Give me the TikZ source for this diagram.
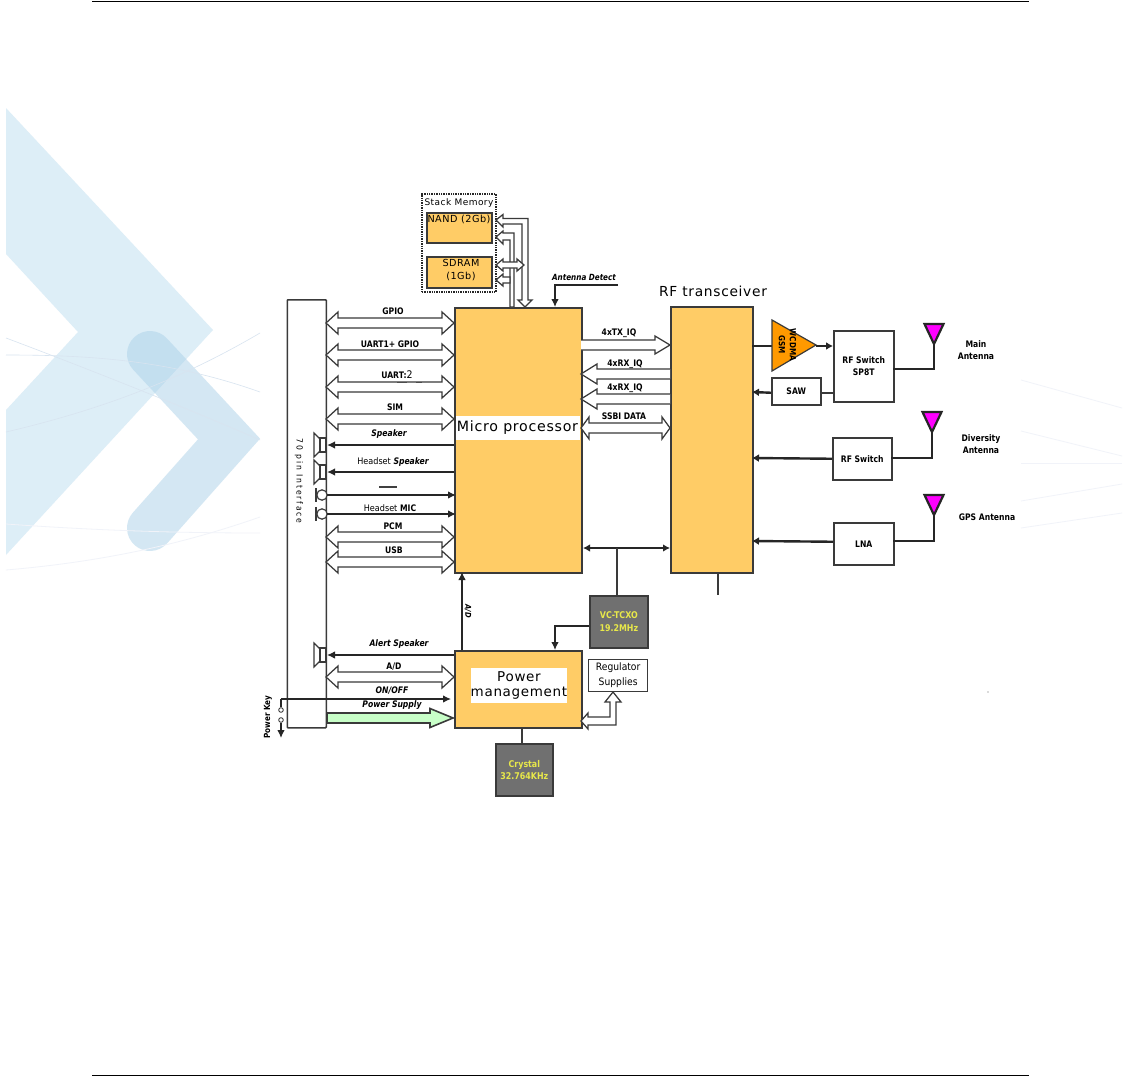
\documentclass[tikz,border=0pt]{standalone}
\usepackage{fontspec}
\setmainfont{DejaVu Sans}
\newfontfamily\thinf[LetterSpace=5]{DejaVu Sans}
\newfontfamily\boldf[FakeStretch=0.85]{DejaVu Sans Bold}
\newfontfamily\boldi[FakeStretch=0.85]{DejaVu Sans Bold Oblique}
\newfontfamily\regf[FakeStretch=0.9]{DejaVu Sans}
\usetikzlibrary{arrows.meta}
\definecolor{blockfill}{HTML}{FFCC66}
\definecolor{linegray}{HTML}{3A3A3A}
\definecolor{wmA}{HTML}{DDEEF7}
\definecolor{wmB}{HTML}{ABD1E9}
\definecolor{wmL}{HTML}{D8E4F0}
\definecolor{wmM}{HTML}{F1F3F9}
\definecolor{yelt}{HTML}{E8E84A}
\definecolor{hoty}{HTML}{FF00FF}
\definecolor{pafill}{HTML}{FF9900}
\definecolor{grayfill}{HTML}{707070}
\definecolor{psgreen}{HTML}{C8FFC8}
\tikzset{
  block/.style={draw=linegray,line width=1.7pt,fill=blockfill,inner sep=0pt},
  plain/.style={draw=linegray,line width=1.5pt,fill=white},
  gray box/.style={draw=linegray,line width=1.7pt,fill=grayfill},
  dbl/.style={draw=linegray,line width=1.25pt,fill=white,line join=miter},
  conn/.style={draw=black!85,line width=1.2pt,-{Latex[length=8pt,width=7.5pt]}},
  tconn/.style={draw=black!85,line width=2.4pt,-{Latex[length=7pt,width=8pt]}},
  lab/.style={font=\boldf\fontsize{9}{11}\selectfont,inner sep=0pt,align=center},
  ilab/.style={font=\boldi\fontsize{9}{11}\selectfont,inner sep=0pt,align=center},
  ttl/.style={font=\thinf\fontsize{13.5}{15}\selectfont,inner sep=0pt,align=center},
  memt/.style={font=\thinf\fontsize{9.7}{13}\selectfont,inner sep=0pt,align=center},
  yel/.style={font=\boldf\fontsize{9.3}{12.5}\selectfont,text=yelt,inner sep=0pt,align=center},
  faint/.style={draw=wmL,line width=.6pt},
  fainter/.style={draw=wmM,line width=.8pt},
}
\newcommand{\hdbl}[3]{\draw[dbl] (#1,#3) -- (#1+12,#3-11) -- (#1+12,#3-5) -- (#2-12,#3-5) -- (#2-12,#3-11) -- (#2,#3) -- (#2-12,#3+11) -- (#2-12,#3+5) -- (#1+12,#3+5) -- (#1+12,#3+11) -- cycle;}
\newcommand{\spk}[1]{\draw[draw=linegray,line width=1.2pt,fill=white] (320,#1-6) -- (314,#1-12) -- (314,#1+12) -- (320,#1+6) -- cycle; \draw[draw=linegray,line width=1.2pt,fill=white] (320,#1-7) rectangle (325.5,#1+7);}
\newcommand{\mic}[1]{\draw[draw=linegray,line width=1.6pt] (316,#1-7) -- (316,#1+7); \draw[draw=linegray,line width=1.2pt] (316,#1) -- (318,#1); \draw[draw=linegray,line width=1.2pt,fill=white] (322,#1) circle (5.2);}
\newcommand{\ant}[3]{\draw[draw=black!85,line width=2.2pt,fill=hoty,line join=miter] (#1-9.5,#2) -- (#1+9.5,#2) -- (#1,#3) -- cycle;}
\begin{document}
\begin{tikzpicture}[x=1pt,y=-1pt]
\useasboundingbox (0,0) rectangle (1128,1076);
\fill[white] (0,0) rectangle (1128,1076);
% page rules
\draw[black,line width=1.2pt] (92,1.5) -- (1029,1.5);
\draw[black,line width=1.2pt] (92,1075.2) -- (1029,1075.2);
% watermark
\fill[wmA] (6,108) -- (213,330) -- (6,555) -- (6,410) -- (78,332) -- (6,254) -- cycle;
\draw[wmB,opacity=.5,line width=46pt,line cap=round,line join=miter] (150,354) -- (229,439) -- (150,528);
\draw[faint] (6,338) .. controls (70,362) and (180,405) .. (260,440);
\draw[faint] (6,355) .. controls (90,355) and (170,360) .. (260,392);
\draw[faint] (6,432) .. controls (100,410) and (180,380) .. (260,333);
\draw[fainter] (6,524) .. controls (90,530) and (170,533) .. (260,533);
\draw[fainter] (6,570) .. controls (100,562) and (180,545) .. (260,517);
\draw[fainter] (1021,380) -- (1122,408);
\draw[fainter] (1021,431) -- (1122,456);
\draw[fainter] (1021,463) -- (1122,463);
\draw[fainter] (1021,501) -- (1122,484);
\draw[fainter] (1021,528) -- (1122,513);
% blocks
\node[draw=black!85,line width=1.4pt,dash pattern=on 1.4pt off 1pt,inner sep=0pt,minimum width=74pt,minimum height=98pt] (stack) at (459,243) {};
\node[memt,font=\thinf\fontsize{9}{11}\selectfont] (stacklab) at (459,203) {Stack Memory};
\node[block,minimum width=65pt,minimum height=30pt,anchor=north west] (nand) at (426,212) {};
\node[memt] (nandlab) at (459,219) {NAND (2Gb)};
\node[block,minimum width=65pt,minimum height=31pt,anchor=north west] (sdram) at (426,256) {};
\node[memt] (sdramlab) at (461,270) {SDRAM\\(1Gb)};
\node[plain,minimum width=39pt,minimum height=428pt,anchor=north west,inner sep=0pt,rounded corners=.8pt] (pin) at (286.5,299) {};
\node[rotate=-90,font=\regf\addfontfeature{LetterSpace=22}\fontsize{8.5}{10}\selectfont,inner sep=0pt] (pinlab) at (299,481) {70 pin Interface};
\node[block,minimum width=127pt,minimum height=265pt,anchor=north west] (micro) at (454,307) {};
\node[fill=white,minimum width=124pt,minimum height=24pt,inner sep=0pt,ttl,font=\thinf\fontsize{14.2}{15}\selectfont] (microlab) at (517.5,428) {Micro processor};
\node[block,minimum width=82pt,minimum height=266pt,anchor=north west] (rf) at (670,306) {};
\node[ttl,font=\thinf\fontsize{13.8}{15}\selectfont] (rflab) at (713,291) {RF transceiver};
\node[block,minimum width=127pt,minimum height=77pt,anchor=north west] (pm) at (454,650) {};
\node[fill=white,minimum width=92pt,minimum height=35pt,inner sep=0pt,ttl] (pmlab) at (519,685) {Power\\management};
\node[gray box,minimum width=58pt,minimum height=52pt,inner sep=0pt,anchor=north west,yel] (tcxo) at (589,595) {VC-TCXO\\19.2MHz};
\node[gray box,minimum width=57pt,minimum height=52pt,inner sep=0pt,anchor=north west,yel] (crystal) at (495,743) {Crystal\\32.764KHz};
\node[draw=linegray,line width=1.3pt,fill=white,minimum width=59pt,minimum height=32pt,anchor=north west,inner sep=0pt,align=center,font=\regf\fontsize{10.2}{15}\selectfont] (reg) at (588,659) {Regulator\\Supplies};
% left double arrows
\hdbl{326}{454}{323}
\hdbl{326}{454}{355}
\hdbl{326}{454}{387}
\hdbl{326}{454}{419}
\hdbl{326}{454}{537}
\hdbl{326}{454}{562}
\hdbl{326}{454}{677}
\node[lab] (l1) at (393,311) {GPIO};
\node[lab] (l2) at (390,344) {UART1+ GPIO};
\node[lab] (l3) at (397,375) {UART:{\regf\fontsize{10.5}{11}\selectfont 2}};
\draw[black!70,line width=.9pt] (397,382.5) -- (407,382.5) (416,382.5) -- (422,382.5);
\node[lab] (l4) at (395,407) {SIM};
\node[lab] (l5) at (393,526) {PCM};
\node[lab] (l6) at (394,550) {USB};
\node[ilab] (l7) at (399,644) {Alert Speaker};
\node[lab] (l8) at (394,667) {A/D};
\node[ilab] (l9) at (392,691) {ON/OFF};
\node[ilab] (l10) at (392,705) {Power Supply};
\node[ilab] (l11) at (389,434) {Speaker};
\node[ilab] (l12) at (393,462) {{\regf Headset} Speaker};
\node[lab] (l13) at (390,508) {{\regf Headset} MIC};
\fill[black!75] (379,486) rectangle (397,488);
% speakers and mics
\spk{445} \spk{472} \spk{655}
\mic{495} \mic{514}
\coordinate (sa1) at (454,445); \coordinate (sa2) at (327,445);
\coordinate (sb1) at (454,472); \coordinate (sb2) at (327,472);
\coordinate (sc1) at (454,655); \coordinate (sc2) at (327,655);
\draw[conn,line width=1.5pt] (sa1) -- (sa2);
\draw[conn,line width=1.5pt] (sb1) -- (sb2);
\draw[conn] (sc1) -- (sc2);
\coordinate (ma1) at (327,495); \coordinate (ma2) at (456,495);
\coordinate (mb1) at (327,514); \coordinate (mb2) at (456,514);
\draw[conn] (ma1) -- (ma2);
\draw[conn] (mb1) -- (mb2);
% on/off + power key
\coordinate (pk0) at (281,738); \coordinate (pk1) at (281,699); \coordinate (pk2) at (451,699);
\draw[conn] (pk1) -- (pk2);
\draw[black!85,line width=1.2pt] (pk1) -- (281,707);
\draw[conn] (281,723) -- (pk0);
\draw[black!85,line width=.8pt,fill=white] (281,710) circle (2.3);
\draw[black!85,line width=.8pt,fill=white] (281,720) circle (2.3);
\node[lab,rotate=90,font=\boldf\fontsize{8.5}{10}\selectfont] (pwrkey) at (268,717) {Power Key};
% power supply arrow
\draw[draw=linegray,line width=1.6pt,fill=psgreen] (327,713) -- (430,713) -- (430,708.5) -- (453,718) -- (430,727.5) -- (430,723) -- (327,723) -- cycle;
% A/D
\draw[conn] (462,650) -- (462,572);
\node[lab,rotate=-90,font=\boldi\fontsize{8}{9}\selectfont] (adv) at (468,611) {A/D};
% crystal & tcxo
\coordinate (ta) at (583,548); \coordinate (tb) at (670,548);
\draw[draw=black!85,line width=1.2pt,{Latex[length=7pt,width=7.5pt]}-{Latex[length=7pt,width=7.5pt]}] (ta) -- (tb);
\draw[linegray,line width=1.2pt] (617,595) -- (617,548);
\draw[conn] (589,626) -- (555,626) -- (555,650);
\draw[linegray,line width=1.6pt] (522,727) -- (522,743);
% regulator arrow
\draw[dbl] (581,721) -- (588,713) -- (588,717) -- (610,717) -- (610,702) -- (605,702) -- (613,692) -- (621,702) -- (616,702) -- (616,725) -- (588,725) -- (588,729) -- cycle;
% memory buses
\draw[dbl] (496,220) -- (503,214.5) -- (503,218.5) -- (528,218.5) -- (528,300) -- (532,300) -- (525,307) -- (518,300) -- (522,300) -- (522,224) -- (503,224) -- (503,227) -- cycle;
\draw[dbl] (496,237) -- (503,231) -- (503,233) -- (514,233) -- (514,307) -- (510,307) -- (510,240) -- (503,240) -- (503,244) -- cycle;
\draw[dbl] (496,265) -- (503,259) -- (503,262) -- (517,262) -- (517,259) -- (524,265) -- (517,271) -- (517,268) -- (503,268) -- (503,271) -- cycle;
\draw[dbl] (496,280) -- (503,274) -- (503,277) -- (510,277) -- (510,283) -- (503,283) -- (503,286) -- cycle;
% antenna detect
\coordinate (ad) at (618,285);
\draw[conn] (ad) -- (555,285) -- (555,307);
\node[ilab,font=\boldi\fontsize{8.5}{10}\selectfont] (adlab) at (584,277) {Antenna Detect};
% micro <-> rf buses
\draw[dbl] (581,340) -- (655,340) -- (655,336) -- (670,345) -- (655,354) -- (655,350) -- (581,350);
\draw[dbl] (670,369) -- (597,369) -- (597,364) -- (581,374) -- (597,384) -- (597,379) -- (670,379);
\draw[dbl] (670,394) -- (597,394) -- (597,389) -- (581,399) -- (597,409) -- (597,404) -- (670,404);
\draw[dbl] (581,428) -- (589,417) -- (589,423) -- (662,423) -- (662,417) -- (670,428) -- (662,439) -- (662,433) -- (589,433) -- (589,439) -- cycle;
\node[lab] (t1) at (619,333) {4xTX\_IQ};
\node[lab] (t2) at (625,364) {4xRX\_IQ};
\node[lab] (t3) at (625,388) {4xRX\_IQ};
\node[lab] (t4) at (624,416) {SSBI DATA};
% rf stub
\draw[linegray,line width=1.2pt] (718,572) -- (718,595);
% PA
\draw[black!85,line width=2.4pt] (752,346) -- (772,346);
\draw[draw=linegray,line width=1.2pt,fill=pafill] (772,320) -- (816,345) -- (772,371) -- cycle;
\node[lab,rotate=-90,font=\boldf\fontsize{8.5}{9}\selectfont] (pa1) at (782,345) {GSM};
\node[lab,rotate=-90,font=\boldf\fontsize{8.5}{9}\selectfont] (pa2) at (793,345) {WCDMA};
\node[plain,minimum width=60pt,minimum height=71pt,inner sep=0pt,anchor=north west,lab,font=\boldf\fontsize{9}{12.5}\selectfont] (sw1) at (833,330) {RF Switch\\SP8T};
\node[plain,minimum width=49pt,minimum height=27pt,inner sep=0pt,anchor=north west,lab] (saw) at (771,377) {SAW};
\node[plain,minimum width=59pt,minimum height=42pt,inner sep=0pt,anchor=north west,lab] (sw2) at (832,437) {RF Switch};
\node[plain,minimum width=60pt,minimum height=42pt,inner sep=0pt,anchor=north west,lab] (lna) at (833,522) {LNA};
\draw[tconn] (816,346) -- (833,346);
\draw[tconn] ([yshift=-1.5pt]saw.west) -- (752,392);
\draw[linegray,line width=1.6pt] (820,393) -- (833,393);
\draw[tconn] (sw2.west) -- (752,458);
\draw[tconn] ([yshift=2pt]lna.west) -- (752,541);
\draw[black!85,line width=2.4pt] (893,369) -- (934,369) -- (934,340);
\draw[black!85,line width=2.4pt] (891,458) -- (932,458) -- (932,430);
\draw[black!85,line width=2.4pt] (893,541) -- (934,541) -- (934,510);
\ant{934}{324}{344}
\ant{932}{412}{432}
\ant{934}{495}{515}
\node[lab,font=\boldf\fontsize{9}{12.5}\selectfont] (a1) at (976,350) {Main\\Antenna};
\node[lab,font=\boldf\fontsize{9}{12.5}\selectfont] (a2) at (981,444) {Diversity\\Antenna};
\node[lab,font=\boldf\fontsize{9}{11}\selectfont] (a3) at (987,517) {GPS Antenna};
\fill[black!60] (988,692) circle (.6);
\end{tikzpicture}
\end{document}
